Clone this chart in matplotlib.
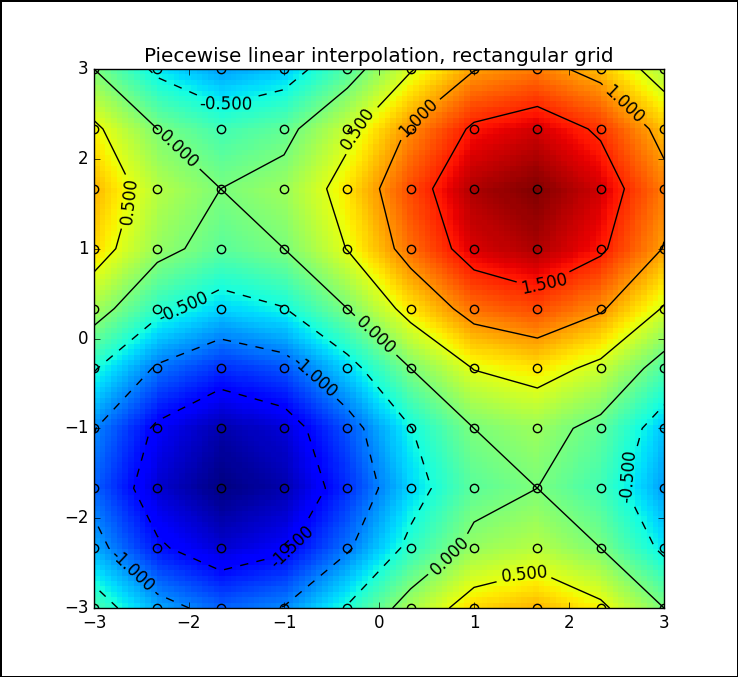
import matplotlib
matplotlib.use("Agg")
import matplotlib.pyplot as plt
import matplotlib.tri as mtri
import numpy as np

plt.style.use("classic")

# grid nodes
x_nodes = [-3.0, -2.333, -1.667, -1.0, -0.333, 0.333, 1.0, 1.667, 2.333, 3.0]
y_nodes = [-3.0, -2.333, -1.667, -1.0, -0.333, 0.333, 1.0, 1.667, 2.333, 3.0]

# values at the nodes, one row per y
z_row0 = [-0.282, -0.864, -1.136, -0.982, -0.468, 0.186, 0.700, 0.854, 0.582, 0.000]
z_row1 = [-0.864, -1.446, -1.718, -1.564, -1.050, -0.396, 0.118, 0.272, 0.000, -0.582]
z_row2 = [-1.136, -1.718, -1.990, -1.836, -1.322, -0.668, -0.154, 0.000, -0.272, -0.854]
z_row3 = [-0.982, -1.564, -1.836, -1.682, -1.168, -0.514, 0.000, 0.154, -0.118, -0.700]
z_row4 = [-0.468, -1.050, -1.322, -1.168, -0.654, 0.000, 0.514, 0.668, 0.396, -0.186]
z_row5 = [0.186, -0.396, -0.668, -0.514, 0.000, 0.654, 1.168, 1.322, 1.050, 0.468]
z_row6 = [0.700, 0.118, -0.154, 0.000, 0.514, 1.168, 1.682, 1.836, 1.564, 0.982]
z_row7 = [0.854, 0.272, 0.000, 0.154, 0.668, 1.322, 1.836, 1.990, 1.718, 1.136]
z_row8 = [0.582, 0.000, -0.272, -0.118, 0.396, 1.050, 1.564, 1.718, 1.446, 0.864]
z_row9 = [0.000, -0.582, -0.854, -0.700, -0.186, 0.468, 0.982, 1.136, 0.864, 0.282]

levels = [-1.5, -1.0, -0.5, 0.0, 0.5, 1.0, 1.5]

# where the contour labels sit
label_spots = [(-1.61, 2.61), (-2.12, 2.09), (-2.63, 1.53), (-0.22, 2.34),
               (0.40, 2.47), (2.57, 2.6), (1.73, 0.61), (-2.06, 0.34),
               (-0.04, 0.03), (-0.69, -0.44), (2.61, -1.53), (0.74, -2.41),
               (1.53, -2.63), (-0.93, -2.31), (-2.61, -2.60)]

Z = np.array([z_row0, z_row1, z_row2, z_row3, z_row4,
              z_row5, z_row6, z_row7, z_row8, z_row9])
X, Y = np.meshgrid(x_nodes, y_nodes)

# fine image from the linear interpolator
tri = mtri.Triangulation(X.ravel(), Y.ravel())
interp = mtri.LinearTriInterpolator(tri, Z.ravel())
xi = np.linspace(-2.999, 2.999, 100)
yi = np.linspace(-2.999, 2.999, 100)
Xi, Yi = np.meshgrid(xi, yi)
Zi = interp(Xi, Yi)

fig = plt.figure(figsize=(7.38, 6.77), dpi=100, facecolor="white", edgecolor="black", linewidth=2)
ax = fig.add_axes([94/738, 1-608/677, 570/738, 539/677])

ax.imshow(Zi, extent=[-3, 3, -3, 3], origin="lower", cmap="jet",
          interpolation="nearest", aspect="auto", vmin=-2, vmax=2)
cs = ax.contour(X, Y, Z, levels=levels, colors="k", linewidths=1,
                negative_linestyles=(0, (6, 6)))
ax.clabel(cs, fmt="%1.3f", fontsize=12, manual=label_spots, inline=True, inline_spacing=5)
ax.plot(X.ravel(), Y.ravel(), "o", mfc="none", mec="k", ms=6, mew=1)

ax.set_xlim(-3, 3)
ax.set_ylim(-3, 3)
ax.set_xticks(range(-3, 4))
ax.set_yticks(range(-3, 4))
ax.tick_params(labelsize=12)
ax.set_title("Piecewise linear interpolation, rectangular grid", fontsize=14.4)

fig.savefig("out.png", dpi=100, facecolor="white", edgecolor="black")
